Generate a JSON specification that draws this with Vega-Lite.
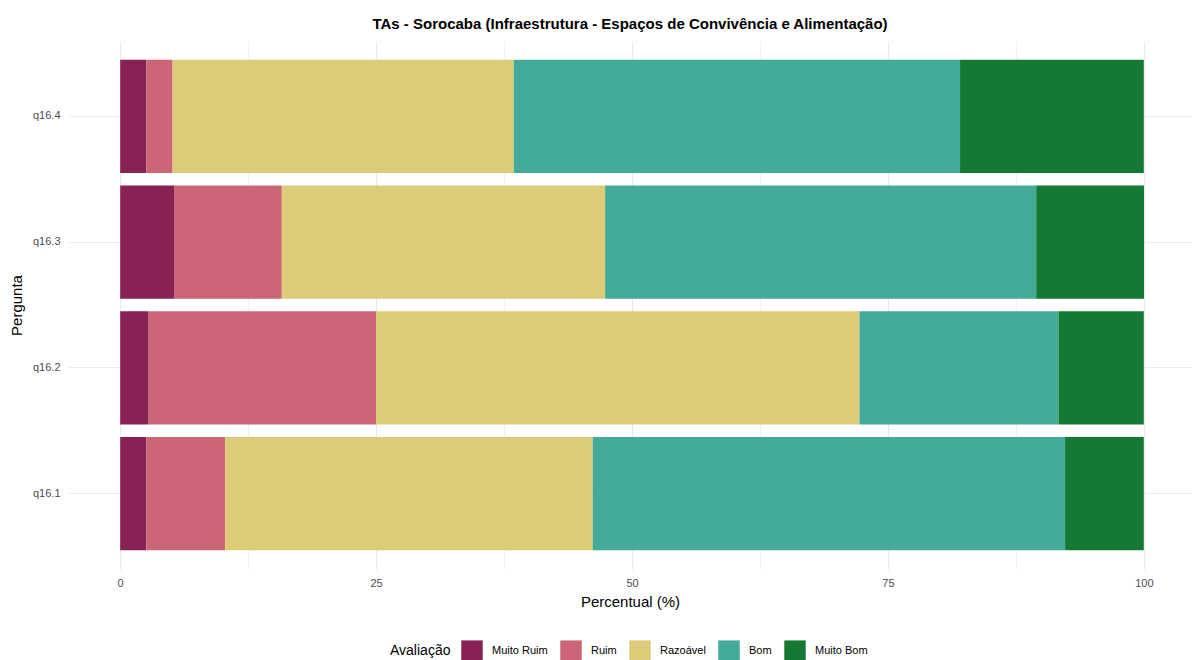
{
  "$schema": "https://vega.github.io/schema/vega-lite/v6.json",
  "autosize": "none",
  "padding": {"left": 69, "top": 41, "right": 1, "bottom": 91},
  "width": 1122,
  "height": 528,
  "background": "white",
  "title": {
    "text": "TAs - Sorocaba (Infraestrutura - Espaços de Convivência e Alimentação)",
    "font": "Liberation Sans",
    "fontSize": 15,
    "fontWeight": "bold",
    "color": "#000000",
    "anchor": "middle",
    "offset": 9
  },
  "config": {
    "view": {"stroke": null},
    "font": "Liberation Sans"
  },
  "data": {
    "values": [
      {"pergunta": "q16.1", "avaliacao": "Muito Ruim", "ord": 1, "pct": 2.56},
      {"pergunta": "q16.1", "avaliacao": "Ruim", "ord": 2, "pct": 7.69},
      {"pergunta": "q16.1", "avaliacao": "Razoável", "ord": 3, "pct": 35.90},
      {"pergunta": "q16.1", "avaliacao": "Bom", "ord": 4, "pct": 46.15},
      {"pergunta": "q16.1", "avaliacao": "Muito Bom", "ord": 5, "pct": 7.69},
      {"pergunta": "q16.2", "avaliacao": "Muito Ruim", "ord": 1, "pct": 2.78},
      {"pergunta": "q16.2", "avaliacao": "Ruim", "ord": 2, "pct": 22.22},
      {"pergunta": "q16.2", "avaliacao": "Razoável", "ord": 3, "pct": 47.22},
      {"pergunta": "q16.2", "avaliacao": "Bom", "ord": 4, "pct": 19.44},
      {"pergunta": "q16.2", "avaliacao": "Muito Bom", "ord": 5, "pct": 8.33},
      {"pergunta": "q16.3", "avaliacao": "Muito Ruim", "ord": 1, "pct": 5.26},
      {"pergunta": "q16.3", "avaliacao": "Ruim", "ord": 2, "pct": 10.53},
      {"pergunta": "q16.3", "avaliacao": "Razoável", "ord": 3, "pct": 31.58},
      {"pergunta": "q16.3", "avaliacao": "Bom", "ord": 4, "pct": 42.11},
      {"pergunta": "q16.3", "avaliacao": "Muito Bom", "ord": 5, "pct": 10.53},
      {"pergunta": "q16.4", "avaliacao": "Muito Ruim", "ord": 1, "pct": 2.56},
      {"pergunta": "q16.4", "avaliacao": "Ruim", "ord": 2, "pct": 2.56},
      {"pergunta": "q16.4", "avaliacao": "Razoável", "ord": 3, "pct": 33.33},
      {"pergunta": "q16.4", "avaliacao": "Bom", "ord": 4, "pct": 43.59},
      {"pergunta": "q16.4", "avaliacao": "Muito Bom", "ord": 5, "pct": 17.95}
    ]
  },
  "mark": {"type": "bar"},
  "encoding": {
    "y": {
      "field": "pergunta",
      "type": "nominal",
      "sort": ["q16.4", "q16.3", "q16.2", "q16.1"],
      "scale": {"paddingInner": 0.1, "paddingOuter": 0.15},
      "axis": {
        "title": "Pergunta",
        "titleFont": "Liberation Sans",
        "titleFontSize": 15,
        "titleFontWeight": "normal",
        "titleColor": "#000000",
        "titlePadding": 8,
        "labelFontSize": 11,
        "labelColor": "#4d4d4d",
        "labelPadding": 9,
        "ticks": false,
        "domain": false,
        "grid": true,
        "bandPosition": 0.5,
        "gridColor": "#ebebeb",
        "gridWidth": 1
      }
    },
    "x": {
      "field": "pct",
      "type": "quantitative",
      "stack": "zero",
      "scale": {"domain": [-5, 104.6], "nice": false, "zero": false},
      "axis": {
        "title": "Percentual (%)",
        "titleFont": "Liberation Sans",
        "titleFontSize": 15,
        "titleFontWeight": "normal",
        "titleColor": "#000000",
        "titlePadding": 6,
        "values": [0, 12.5, 25, 37.5, 50, 62.5, 75, 87.5, 100],
        "labelExpr": "datum.value % 25 == 0 ? datum.label : ''",
        "labelFontSize": 11,
        "labelColor": "#4d4d4d",
        "labelPadding": 8,
        "ticks": false,
        "domain": false,
        "grid": true,
        "gridColor": {"condition": {"test": "datum.value % 25 == 0", "value": "#e8e8e8"}, "value": "#f2f2f2"},
        "gridWidth": 1
      }
    },
    "color": {
      "field": "avaliacao",
      "type": "nominal",
      "scale": {
        "domain": ["Muito Ruim", "Ruim", "Razoável", "Bom", "Muito Bom"],
        "range": ["#882255", "#CC6677", "#DDCC77", "#44AA99", "#157933"]
      },
      "legend": {
        "title": "Avaliação",
        "orient": "none",
        "legendX": 321,
        "legendY": 599,
        "direction": "horizontal",
        "titleOrient": "left",
        "titleFont": "Liberation Sans",
        "titleFontSize": 14,
        "titleFontWeight": "normal",
        "titleColor": "#000000",
        "titlePadding": 10,
        "symbolType": "square",
        "symbolSize": 460,
        "symbolStrokeWidth": 0,
        "symbolOpacity": 1,
        "labelFontSize": 11,
        "labelColor": "#000000",
        "labelOffset": 9,
        "columnPadding": 12
      }
    },
    "order": {"field": "ord", "type": "quantitative", "sort": "ascending"}
  }
}
